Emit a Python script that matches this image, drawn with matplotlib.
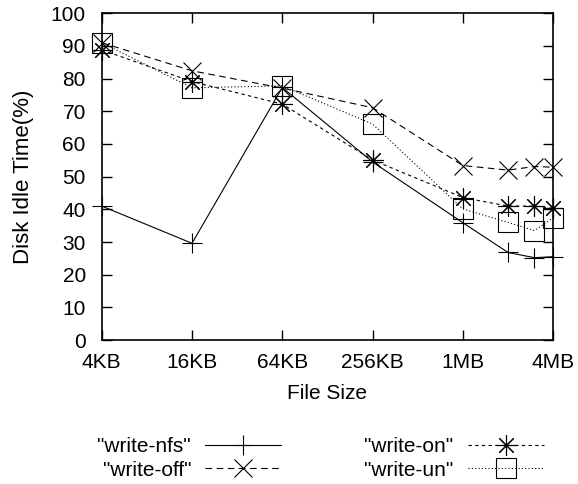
import matplotlib
matplotlib.use("Agg")
import matplotlib.pyplot as plt

plt.rcParams['font.family'] = ['Liberation Sans', 'DejaVu Sans']

sizes_kb = [4, 16, 64, 256, 1024, 2048, 3072, 4096]
tick_pos = [4, 16, 64, 256, 1024, 4096]
tick_labels = ["4KB", "16KB", "64KB", "256KB", "1MB", "4MB"]

write_nfs = [41.0, 29.6, 77.3, 54.5, 35.9, 26.8, 25.2, 25.5]
write_off = [91.0, 82.4, 77.1, 71.1, 53.4, 52.0, 53.1, 52.9]
write_on = [88.8, 79.1, 72.2, 55.1, 43.6, 41.0, 41.0, 40.3]
write_un = [91.0, 77.2, 77.8, 66.1, 40.1, 36.0, 33.5, 37.4]

fs = 15
fig = plt.figure(figsize=(5.78, 4.84), dpi=100)
ax = fig.add_axes([0.176, 0.2975, 0.781, 0.675])

lw = 0.8
common = dict(color='black', lw=lw, mew=lw, clip_on=False)
ax.plot(sizes_kb, write_nfs, ls='-', marker='+', ms=14.7, label='"write-nfs"', **common)
ax.plot(sizes_kb, write_off, ls=(0, (6, 4)), marker='x', ms=13.5, label='"write-off"', **common)
ax.plot(sizes_kb, write_on, ls=(0, (3, 3)), marker=(8, 2, 0), ms=14.5, label='"write-on"', **common)
ax.plot(sizes_kb, write_un, ls=(0, (1, 2)), marker='s', ms=14.8, mfc='none', label='"write-un"', **common)

ax.set_xscale('log', base=4)
ax.set_xlim(4, 4096)
ax.set_ylim(0, 100)
ax.set_xticks(tick_pos)
ax.set_xticklabels(tick_labels)
ax.minorticks_off()
ax.set_yticks(range(0, 101, 10))
ax.tick_params(direction='in', length=7, width=1, top=True, right=True, labelsize=fs)
ax.tick_params(axis='x', pad=9.5)
ax.tick_params(axis='y', pad=11.5)
for s in ax.spines.values():
    s.set_linewidth(1.2)
ax.set_xlabel('File Size', fontsize=fs, labelpad=8.5)
ax.set_ylabel('Disk Idle Time(%)', fontsize=16, labelpad=12)

leg = fig.legend(loc='center', bbox_to_anchor=(0.5545, 1 - 458.5 / 484), ncol=2, frameon=False,
                 markerfirst=False, fontsize=fs, handlelength=3.65, labelspacing=0.2,
                 columnspacing=4.0, handletextpad=0.67, borderpad=0)

fig.savefig('out.png', dpi=100)
